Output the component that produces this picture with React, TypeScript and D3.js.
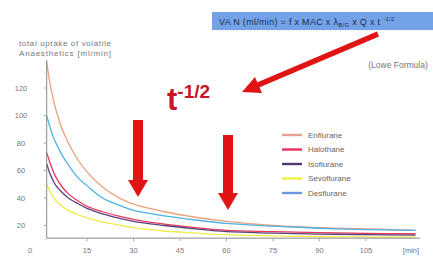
import React from "react";
import * as d3 from "d3";

const times = [2, 3, 4, 5, 7, 9, 12, 15, 20, 25, 30, 40, 50, 60, 75, 90, 105, 121];
const enflurane = [139, 124, 113, 104, 90, 80, 68, 59, 48, 40.5, 35.5, 30, 26, 23, 20, 18.5, 17.5, 16.5];
const halothane = [73, 66, 60, 55, 48, 43, 38, 34, 30, 27, 24.5, 21, 18.5, 16.5, 15.5, 14.8, 14.3, 14];
const isoflurane = [65, 58, 53, 49, 44, 40, 36, 32.5, 28.5, 25.5, 23, 20, 17.5, 15.5, 14.5, 13.8, 13.4, 13];
const sevoflurane = [50, 45, 41, 38, 34, 31, 28, 25.5, 22.5, 20.5, 18.5, 16, 14.5, 13.3, 12.5, 12, 11.7, 11.5];
const desflurane = [100, 92, 85, 80, 71, 64, 55, 49, 40, 35, 31, 27, 24, 21.5, 19.5, 18, 17, 16.5];

const seriesNames = ["Enflurane", "Halothane", "Isoflurane", "Sevoflurane", "Desflurane"];
const seriesValues = [enflurane, halothane, isoflurane, sevoflurane, desflurane];
const lineColors = ["#eba27a", "#e8385a", "#5a3f7e", "#f3ea4a", "#4fb2e6"];
const legendColors = ["#e4a090", "#e8305a", "#4e3a70", "#f2f040", "#6a98dc"];

const xTicks = [15, 30, 45, 60, 75, 90, 105];
const yTicks = [0, 20, 40, 60, 80, 100, 120];
const yMinor = [10, 30, 50, 70, 90, 110, 130];

export default function App() {
  const W = 433, H = 262;
  const x = d3.scaleLinear().domain([0, 120]).range([40.5, 412.5]);
  const y = d3.scaleLinear().domain([0, 140]).range([253, 60.5]);
  const line = d3.line<number>().x((_, i) => x(times[i])).y((d) => y(d)).curve(d3.curveCatmullRom.alpha(0.5));
  const axisX = x(2);
  const axisY = y(10.8);
  const font = "Arial, 'Liberation Sans', sans-serif";
  const red = "#e01414";

  return (
    <svg width={W} height={H} style={{ position: "absolute", left: 0, top: 0, background: "#fff" }} fontFamily={font}>
      <rect x={0} y={0} width={W} height={H} fill="#fff" />
      {/* axis title */}
      <text x={19} y={46} fontSize={8} fill="#777" textLength={92}>total uptake of volatile</text>
      <text x={19} y={56} fontSize={8} fill="#777" textLength={92}>Anaesthetics [ml/min]</text>

      {/* series */}
      {seriesValues.map((vals, i) => (
        <path key={seriesNames[i]} d={line(vals) || ""} fill="none" stroke={lineColors[i]} strokeWidth={1.3} />
      ))}

      {/* axes */}
      <line x1={axisX} x2={axisX} y1={60} y2={axisY} stroke="#888" strokeWidth={1} />
      <line x1={axisX} x2={420} y1={axisY} y2={axisY} stroke="#888" strokeWidth={1} />
      {yTicks.filter((v) => v > 10).map((v) => (
        <line key={"yt" + v} x1={axisX - 3} x2={axisX} y1={y(v)} y2={y(v)} stroke="#aaa" />
      ))}
      {yMinor.map((v) => (
        <line key={"ym" + v} x1={axisX - 2} x2={axisX} y1={y(v)} y2={y(v)} stroke="#ccc" />
      ))}
      {xTicks.map((v) => (
        <line key={"xt" + v} x1={x(v)} x2={x(v)} y1={axisY} y2={axisY + 3} stroke="#aaa" />
      ))}
      {yTicks.map((v) => (
        <text key={"yl" + v} x={v === 0 ? 30 : 21} y={v === 0 ? 252.5 : y(v) + 2.5} fontSize={7.5} fill="#777" textAnchor="middle">{v}</text>
      ))}
      {xTicks.map((v) => (
        <text key={"xl" + v} x={x(v)} y={252.5} fontSize={7.5} fill="#777" textAnchor="middle">{v}</text>
      ))}
      <text x={411} y={252.5} fontSize={7.5} fill="#777" textAnchor="middle">[min]</text>

      {/* legend */}
      {seriesNames.map((n, i) => (
        <g key={"lg" + n} transform={`translate(282, ${135 + i * 14.5})`}>
          <line x1={0} x2={20} y1={0} y2={0} stroke={legendColors[i]} strokeWidth={2.4} />
          <text x={26} y={2.8} fontSize={8} fill="#666">{n}</text>
        </g>
      ))}

      {/* formula box */}
      <rect x={212} y={12} width={221} height={18} fill="#73a3e6" />
      <text x={219} y={24.5} fontSize={9} letterSpacing={0.3} fill="#1d2b55">
        VA N (ml/min) = f x MAC x λ
        <tspan fontSize={6} dy={2}>B/G</tspan>
        <tspan dy={-2}> x Q x t </tspan>
        <tspan fontSize={6} dy={-3.5}>-1/2</tspan>
      </text>
      <text x={398} y={68} fontSize={8.5} fill="#777" textAnchor="middle">(Lowe Formula)</text>

      {/* big diagonal arrow */}
      <line x1={378} y1={34} x2={258} y2={85} stroke={red} strokeWidth={5.5} />
      <polygon points="242,92 255,77 262,93" fill={red} />

      {/* t^-1/2 */}
      <text x={167} y={110} fontSize={31} fontWeight="bold" fill="#cc1428">
        t<tspan fontSize={19} dy={-12}>-1/2</tspan>
      </text>

      {/* vertical arrows */}
      <rect x={133} y={120} width={10} height={62} fill={red} />
      <polygon points="128,180 148,180 138,197" fill={red} />
      <rect x={223} y={135} width={10} height={60} fill={red} />
      <polygon points="218,193 238,193 228,210" fill={red} />
    </svg>
  );
}
